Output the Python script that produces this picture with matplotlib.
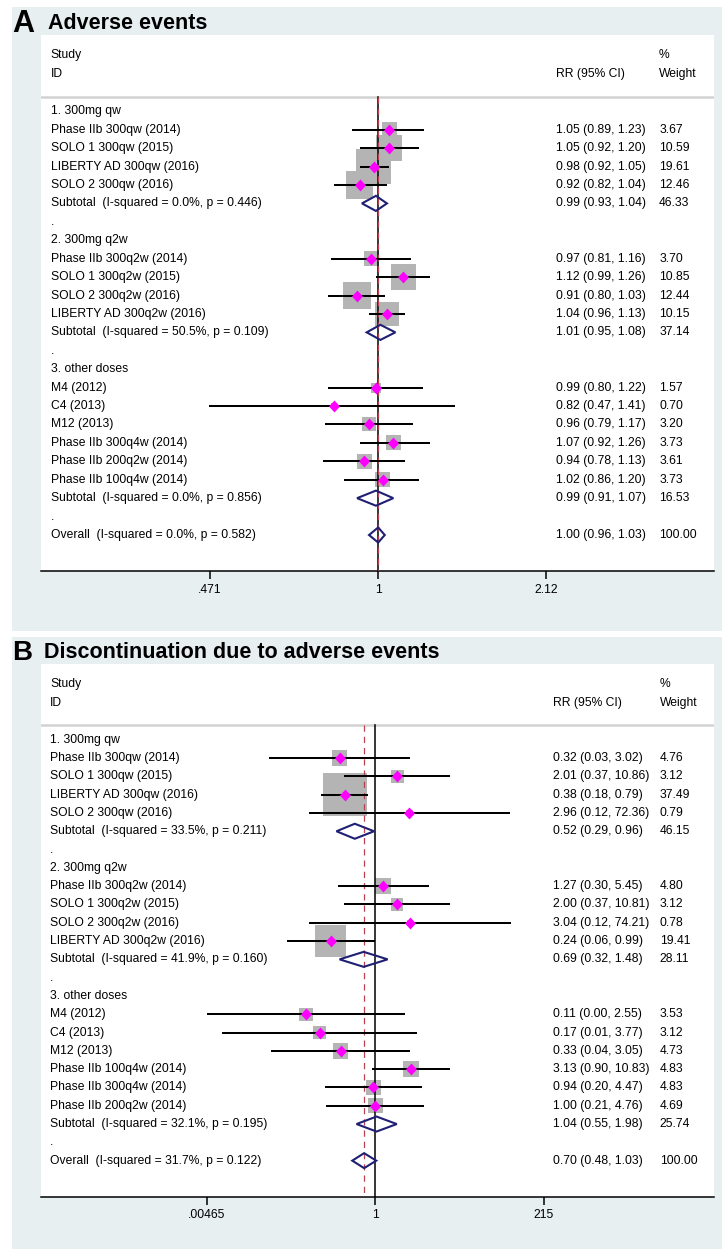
import numpy as np
import matplotlib
matplotlib.use('Agg')
import matplotlib.pyplot as plt
from matplotlib.patches import Rectangle, Polygon
from matplotlib.ticker import NullLocator, FixedLocator, FixedFormatter
import matplotlib.transforms as mtransforms

plt.rcParams['font.family'] = ['Liberation Sans', 'DejaVu Sans']

# ---------------- Panel A: Adverse events ----------------
a_groups = ['1. 300mg qw', '2. 300mg q2w', '3. other doses']
a_study = ['Phase IIb 300qw (2014)', 'SOLO 1 300qw (2015)', 'LIBERTY AD 300qw (2016)', 'SOLO 2 300qw (2016)',
           'Phase IIb 300q2w (2014)', 'SOLO 1 300q2w (2015)', 'SOLO 2 300q2w (2016)', 'LIBERTY AD 300q2w (2016)',
           'M4 (2012)', 'C4 (2013)', 'M12 (2013)', 'Phase IIb 300q4w (2014)', 'Phase IIb 200q2w (2014)',
           'Phase IIb 100q4w (2014)']
a_grp = [0, 0, 0, 0, 1, 1, 1, 1, 2, 2, 2, 2, 2, 2]
a_rr = [1.05, 1.05, 0.98, 0.92, 0.97, 1.12, 0.91, 1.04, 0.99, 0.82, 0.96, 1.07, 0.94, 1.02]
a_lo = [0.89, 0.92, 0.92, 0.82, 0.81, 0.99, 0.80, 0.96, 0.80, 0.47, 0.79, 0.92, 0.78, 0.86]
a_hi = [1.23, 1.20, 1.05, 1.04, 1.16, 1.26, 1.03, 1.13, 1.22, 1.41, 1.17, 1.26, 1.13, 1.20]
a_wt = [3.67, 10.59, 19.61, 12.46, 3.70, 10.85, 12.44, 10.15, 1.57, 0.70, 3.20, 3.73, 3.61, 3.73]
a_sub_label = ['Subtotal  (I-squared = 0.0%, p = 0.446)',
               'Subtotal  (I-squared = 50.5%, p = 0.109)',
               'Subtotal  (I-squared = 0.0%, p = 0.856)']
a_sub_rr = [0.99, 1.01, 0.99]
a_sub_lo = [0.93, 0.95, 0.91]
a_sub_hi = [1.04, 1.08, 1.07]
a_sub_wt = [46.33, 37.14, 16.53]
a_overall_label = 'Overall  (I-squared = 0.0%, p = 0.582)'
a_overall = [1.00, 0.96, 1.03, 100.00]
a_ticks = [0.471, 1, 2.12]
a_ticklabels = ['.471', '1', '2.12']

# ---------------- Panel B: Discontinuation ----------------
b_groups = ['1. 300mg qw', '2. 300mg q2w', '3. other doses']
b_study = ['Phase IIb 300qw (2014)', 'SOLO 1 300qw (2015)', 'LIBERTY AD 300qw (2016)', 'SOLO 2 300qw (2016)',
           'Phase IIb 300q2w (2014)', 'SOLO 1 300q2w (2015)', 'SOLO 2 300q2w (2016)', 'LIBERTY AD 300q2w (2016)',
           'M4 (2012)', 'C4 (2013)', 'M12 (2013)', 'Phase IIb 100q4w (2014)', 'Phase IIb 300q4w (2014)',
           'Phase IIb 200q2w (2014)']
b_grp = [0, 0, 0, 0, 1, 1, 1, 1, 2, 2, 2, 2, 2, 2]
b_rr = [0.32, 2.01, 0.38, 2.96, 1.27, 2.00, 3.04, 0.24, 0.11, 0.17, 0.33, 3.13, 0.94, 1.00]
b_lo = [0.034, 0.37, 0.18, 0.12, 0.30, 0.37, 0.12, 0.06, 0.0047, 0.0075, 0.036, 0.90, 0.20, 0.21]
b_hi = [3.02, 10.86, 0.79, 72.36, 5.45, 10.81, 74.21, 0.99, 2.55, 3.77, 3.05, 10.83, 4.47, 4.76]
b_wt = [4.76, 3.12, 37.49, 0.79, 4.80, 3.12, 0.78, 19.41, 3.53, 3.12, 4.73, 4.83, 4.83, 4.69]
b_sub_label = ['Subtotal  (I-squared = 33.5%, p = 0.211)',
               'Subtotal  (I-squared = 41.9%, p = 0.160)',
               'Subtotal  (I-squared = 32.1%, p = 0.195)']
b_sub_rr = [0.52, 0.69, 1.04]
b_sub_lo = [0.29, 0.32, 0.55]
b_sub_hi = [0.96, 1.48, 1.98]
b_sub_wt = [46.15, 28.11, 25.74]
b_overall_label = 'Overall  (I-squared = 31.7%, p = 0.122)'
b_overall = [0.70, 0.48, 1.03, 100.00]
b_ticks = [0.00465, 1, 215]
b_ticklabels = ['.00465', '1', '215']

# ---------------- style ----------------
W, H = 722, 1249
BG = '#e8eff1'
BOX = '#b4b4b4'
MAG = '#ff00ff'
NAVY = '#1f1f74'
RED = '#b8434e'
FS = 8.75
DPI = 100

fig = plt.figure(figsize=(W / DPI, H / DPI), dpi=DPI)
fig.patch.set_facecolor('white')


def px_rect(x0, y0, x1, y1):
    return [x0 / W, 1 - y1 / H, (x1 - x0) / W, (y1 - y0) / H]


diamond_marker = [(0, 1), (0.92, 0), (0, -1), (-0.92, 0), (0, 1)]


def draw_panel(ax, groups, study, grp, rr, lo, hi, wt, sub_label, sub_rr, sub_lo, sub_hi,
               sub_wt, ov_label, ov, ticks, ticklabels, xlim, kbox, rr_col, wt_col):
    ylim = (24.97, -4.14)
    ax.set_xscale('log')
    ax.set_xlim(*xlim)
    ax.set_ylim(*ylim)
    ax.set_facecolor('white')
    for s in ['top', 'left', 'right']:
        ax.spines[s].set_visible(False)
    ax.spines['bottom'].set_linewidth(1.1)
    ax.yaxis.set_visible(False)
    ax.xaxis.set_major_locator(FixedLocator(ticks))
    ax.xaxis.set_major_formatter(FixedFormatter(ticklabels))
    ax.xaxis.set_minor_locator(NullLocator())
    ax.tick_params(axis='x', direction='out', length=6, width=1.1, labelsize=FS, pad=2.8)

    tr = mtransforms.blended_transform_factory(ax.transAxes, ax.transData)
    lab_x = 0.0143

    # header
    ax.text(lab_x, -3.04, 'Study', transform=tr, fontsize=FS, va='center', ha='left')
    ax.text(lab_x, -2.01, 'ID', transform=tr, fontsize=FS, va='center', ha='left')
    ax.text(rr_col, -2.01, 'RR (95% CI)', transform=tr, fontsize=FS, va='center', ha='left')
    ax.text(wt_col, -3.04, '%', transform=tr, fontsize=FS, va='center', ha='left')
    ax.text(wt_col, -2.01, 'Weight', transform=tr, fontsize=FS, va='center', ha='left')
    ax.axhline(-0.8, color='#d2d2d2', lw=1.8, zorder=1)

    # reference lines
    ax.plot([1, 1], [-0.8, ylim[0]], color='black', lw=1.1, zorder=3)
    ax.plot([ov[0], ov[0]], [-0.8, ylim[0]], color=RED, lw=0.9, ls=(0, (5, 4)), zorder=3.1)

    def fmt(e, l, h):
        return f'{e:.2f} ({l:.2f}, {h:.2f})'

    def hollow(r, e, l, h):
        hh = 0.41
        poly = Polygon([(l, r), (e, r - hh), (h, r), (e, r + hh)], closed=True,
                       fill=False, edgecolor=NAVY, lw=1.5, zorder=5, joinstyle='miter')
        ax.add_patch(poly)

    r = 0
    rows, ests, los, his, sizes = [], [], [], [], []
    for g, gname in enumerate(groups):
        ax.text(lab_x, r, gname, transform=tr, fontsize=FS, va='center', ha='left')
        r += 1
        for i in range(len(study)):
            if grp[i] != g:
                continue
            ax.text(lab_x, r, study[i], transform=tr, fontsize=FS, va='center', ha='left')
            ax.text(rr_col, r, fmt(rr[i], lo[i], hi[i]), transform=tr, fontsize=FS, va='center', ha='left')
            ax.text(wt_col, r, f'{wt[i]:.2f}', transform=tr, fontsize=FS, va='center', ha='left')
            rows.append(r); ests.append(rr[i]); los.append(lo[i]); his.append(hi[i])
            sizes.append((kbox * np.sqrt(wt[i]) * 72 / DPI) ** 2)
            r += 1
        ax.text(lab_x, r, sub_label[g], transform=tr, fontsize=FS, va='center', ha='left')
        ax.text(rr_col, r, fmt(sub_rr[g], sub_lo[g], sub_hi[g]), transform=tr, fontsize=FS, va='center', ha='left')
        ax.text(wt_col, r, f'{sub_wt[g]:.2f}', transform=tr, fontsize=FS, va='center', ha='left')
        hollow(r, sub_rr[g], sub_lo[g], sub_hi[g])
        r += 1
        ax.text(lab_x, r, '.', transform=tr, fontsize=FS, va='center', ha='left')
        r += 1
    ax.text(lab_x, r, ov_label, transform=tr, fontsize=FS, va='center', ha='left')
    ax.text(rr_col, r, fmt(ov[0], ov[1], ov[2]), transform=tr, fontsize=FS, va='center', ha='left')
    ax.text(wt_col, r, f'{ov[3]:.2f}', transform=tr, fontsize=FS, va='center', ha='left')
    hollow(r, ov[0], ov[1], ov[2])

    ax.scatter(ests, rows, s=sizes, marker='s', color=BOX, linewidths=0, zorder=2)
    ax.hlines(rows, los, his, color='black', lw=1.45, zorder=4)
    ax.plot(ests, rows, ls='none', marker=diamond_marker, ms=8.6, color=MAG, mec=MAG, mew=0, zorder=6)


# panel backgrounds
fig.add_artist(Rectangle((12.3 / W, 1 - 630.7 / H), (W - 12.3) / W, (630.7 - 7.3) / H,
                         transform=fig.transFigure, facecolor=BG, edgecolor='none', zorder=0))
fig.add_artist(Rectangle((12.3 / W, 0), (W - 12.3) / W, (H - 636.7) / H,
                         transform=fig.transFigure, facecolor=BG, edgecolor='none', zorder=0))

# titles
fig.text(12.0 / W, 1 - 32.3 / H, 'A', fontsize=22, fontweight='bold', va='baseline', ha='left')
fig.text(47.5 / W, 1 - 29.0 / H, 'Adverse events', fontsize=15.5, fontweight='bold', va='baseline', ha='left')
fig.text(12.5 / W, 1 - 660.0 / H, 'B', fontsize=20, fontweight='bold', va='baseline', ha='left')
fig.text(44.3 / W, 1 - 657.7 / H, 'Discontinuation due to adverse events', fontsize=15.5,
         fontweight='bold', va='baseline', ha='left')

axA = fig.add_axes(px_rect(41, 35, 714.3, 571.3))
draw_panel(axA, a_groups, a_study, a_grp, a_rr, a_lo, a_hi, a_wt, a_sub_label, a_sub_rr, a_sub_lo,
           a_sub_hi, a_sub_wt, a_overall_label, a_overall, a_ticks, a_ticklabels,
           (0.2212, 4.50), 7.8, 0.765, 0.918)

axB = fig.add_axes(px_rect(40.5, 664, 714.3, 1196.7))
draw_panel(axB, b_groups, b_study, b_grp, b_rr, b_lo, b_hi, b_wt, b_sub_label, b_sub_rr, b_sub_lo,
           b_sub_hi, b_sub_wt, b_overall_label, b_overall, b_ticks, b_ticklabels,
           (2.33e-5, 4.9e4), 7.1, 0.760, 0.919)

fig.savefig('out.png', dpi=DPI, facecolor='white')
